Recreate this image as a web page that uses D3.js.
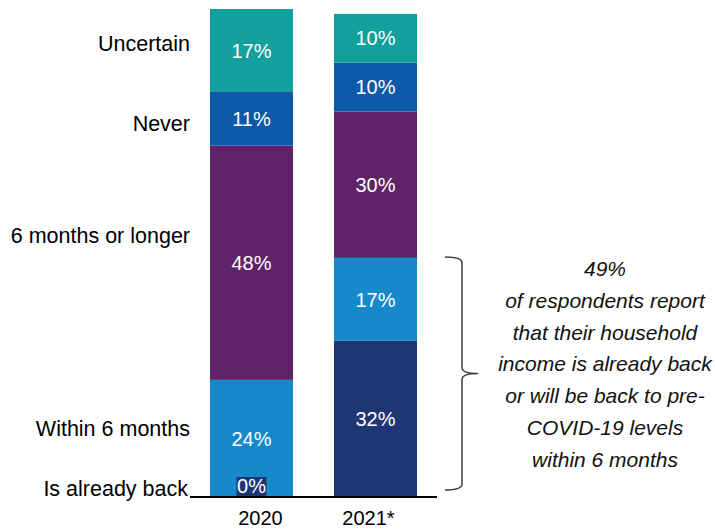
<!DOCTYPE html>
<html>
<head>
<meta charset="utf-8">
<script src="https://cdn.jsdelivr.net/npm/d3@7"></script>
<style>
  html, body { margin: 0; padding: 0; background: #fff; }
  svg { display: block; font-family: "Liberation Sans", Arial, sans-serif; }
</style>
</head>
<body>
<svg id="chart" width="715" height="531"></svg>
<script>
// Survey years shown as bars
const years = ["2020", "2021*"];
// Answer categories, stacked from the baseline upward
const categories = ["Is already back", "Within 6 months", "6 months or longer", "Never", "Uncertain"];
// Share of respondents (%) per category, same order as categories
const values2020 = [0, 24, 48, 11, 17];
const values2021 = [32, 17, 30, 10, 10];
// Callout beside the 2021 bar
const calloutShare = 49;
const calloutLines = [
  "49%",
  "of respondents report",
  "that their household",
  "income is already back",
  "or will be back to pre-",
  "COVID-19 levels",
  "within 6 months"
];

const colors = {
  "Is already back": "#1f3674",
  "Within 6 months": "#1689ca",
  "6 months or longer": "#5f2468",
  "Never": "#0c59a8",
  "Uncertain": "#11a09c"
};

// Where each category name sits on the value axis (in % units)
const categoryLabelAt = {
  "Uncertain": 91.4,
  "Never": 75.0,
  "6 months or longer": 52.0,
  "Within 6 months": 12.5,
  "Is already back": 0.2
};

const svg = d3.select("#chart");

const rows = years.map((yr, i) => {
  const vals = i === 0 ? values2020 : values2021;
  const row = { year: yr };
  categories.forEach((c, j) => row[c] = vals[j]);
  return row;
});

const x = d3.scaleBand()
  .domain(years)
  .range([210, 417])
  .paddingInner(41 / 124)
  .paddingOuter(0);

const y = d3.scaleLinear().domain([0, 100]).range([497, 9]);

const stack = d3.stack().keys(categories);
const series = stack(rows);

// Stacked segments
const layers = svg.append("g").selectAll("g")
  .data(series)
  .join("g")
  .attr("fill", d => colors[d.key]);

layers.selectAll("rect")
  .data(d => d.map(p => ({ key: d.key, p })))
  .join("rect")
  .attr("x", d => x(d.p.data.year))
  .attr("width", x.bandwidth())
  .attr("y", d => y(d.p[1]))
  .attr("height", d => y(d.p[0]) - y(d.p[1]));

// Value labels inside segments
const labelG = svg.append("g")
  .attr("font-size", 20)
  .attr("fill", "#fff")
  .attr("text-anchor", "middle");

series.forEach(s => {
  s.forEach(p => {
    const v = p[1] - p[0];
    const cx = x(p.data.year) + x.bandwidth() / 2;
    if (v > 0) {
      labelG.append("text")
        .attr("x", cx)
        .attr("y", (y(p[0]) + y(p[1])) / 2)
        .attr("dy", "0.36em")
        .text(v + "%");
    } else {
      // Zero share: label sits on the baseline with a small chip of the segment colour
      const g = labelG.append("g");
      g.append("rect")
        .attr("x", cx - 15)
        .attr("width", 30)
        .attr("y", y(p[0]) - 20)
        .attr("height", 20)
        .attr("fill", colors[s.key]);
      g.append("text")
        .attr("x", cx)
        .attr("y", y(p[0]) - 4)
        .text(v + "%");
    }
  });
});

// Category names on the left
svg.append("g")
  .attr("font-size", 21.5)
  .attr("fill", "#000")
  .attr("text-anchor", "end")
  .selectAll("text")
  .data(categories)
  .join("text")
  .attr("x", d => d === "Is already back" ? 188 : 190)
  .attr("y", d => y(categoryLabelAt[d]))
  .text(d => d);

// Baseline
svg.append("line")
  .attr("x1", 190).attr("x2", 437)
  .attr("y1", y(0)).attr("y2", y(0))
  .attr("stroke", "#000")
  .attr("stroke-width", 2);

// Year labels
const xLabels = d3.scalePoint().domain(years).range([260, 368]);
const xAxis = svg.append("g")
  .attr("transform", `translate(0, ${y(0)})`)
  .call(d3.axisBottom(xLabels).tickSize(0).tickPadding(14));
xAxis.select(".domain").remove();
xAxis.selectAll("text")
  .attr("font-size", 20)
  .attr("font-family", "\"Liberation Sans\", Arial, sans-serif")
  .attr("fill", "#000");

// Curly brace spanning the first two 2021 segments
const bTop = y(calloutShare) - 1;
const bBot = y(0) - 7;
const bMid = (bTop + bBot) / 2;
const bx0 = 445, bx1 = 462, bTip = 478;
const brace = d3.path();
brace.moveTo(bx0, bTop);
brace.quadraticCurveTo(bx1, bTop, bx1, bTop + 6);
brace.lineTo(bx1, bMid - 6);
brace.quadraticCurveTo(bx1, bMid, bTip, bMid);
brace.quadraticCurveTo(bx1, bMid, bx1, bMid + 6);
brace.lineTo(bx1, bBot - 6);
brace.quadraticCurveTo(bx1, bBot, bx0, bBot);
svg.append("path")
  .attr("d", brace.toString())
  .attr("fill", "none")
  .attr("stroke", "#3a3a3a")
  .attr("stroke-width", 1.5);

// Callout text
svg.append("g")
  .attr("font-size", 21)
  .attr("font-style", "italic")
  .attr("fill", "#111")
  .attr("text-anchor", "middle")
  .selectAll("text")
  .data(calloutLines)
  .join("text")
  .attr("x", 605)
  .attr("y", (d, i) => 276 + i * 31.8)
  .text(d => d);
</script>
</body>
</html>
